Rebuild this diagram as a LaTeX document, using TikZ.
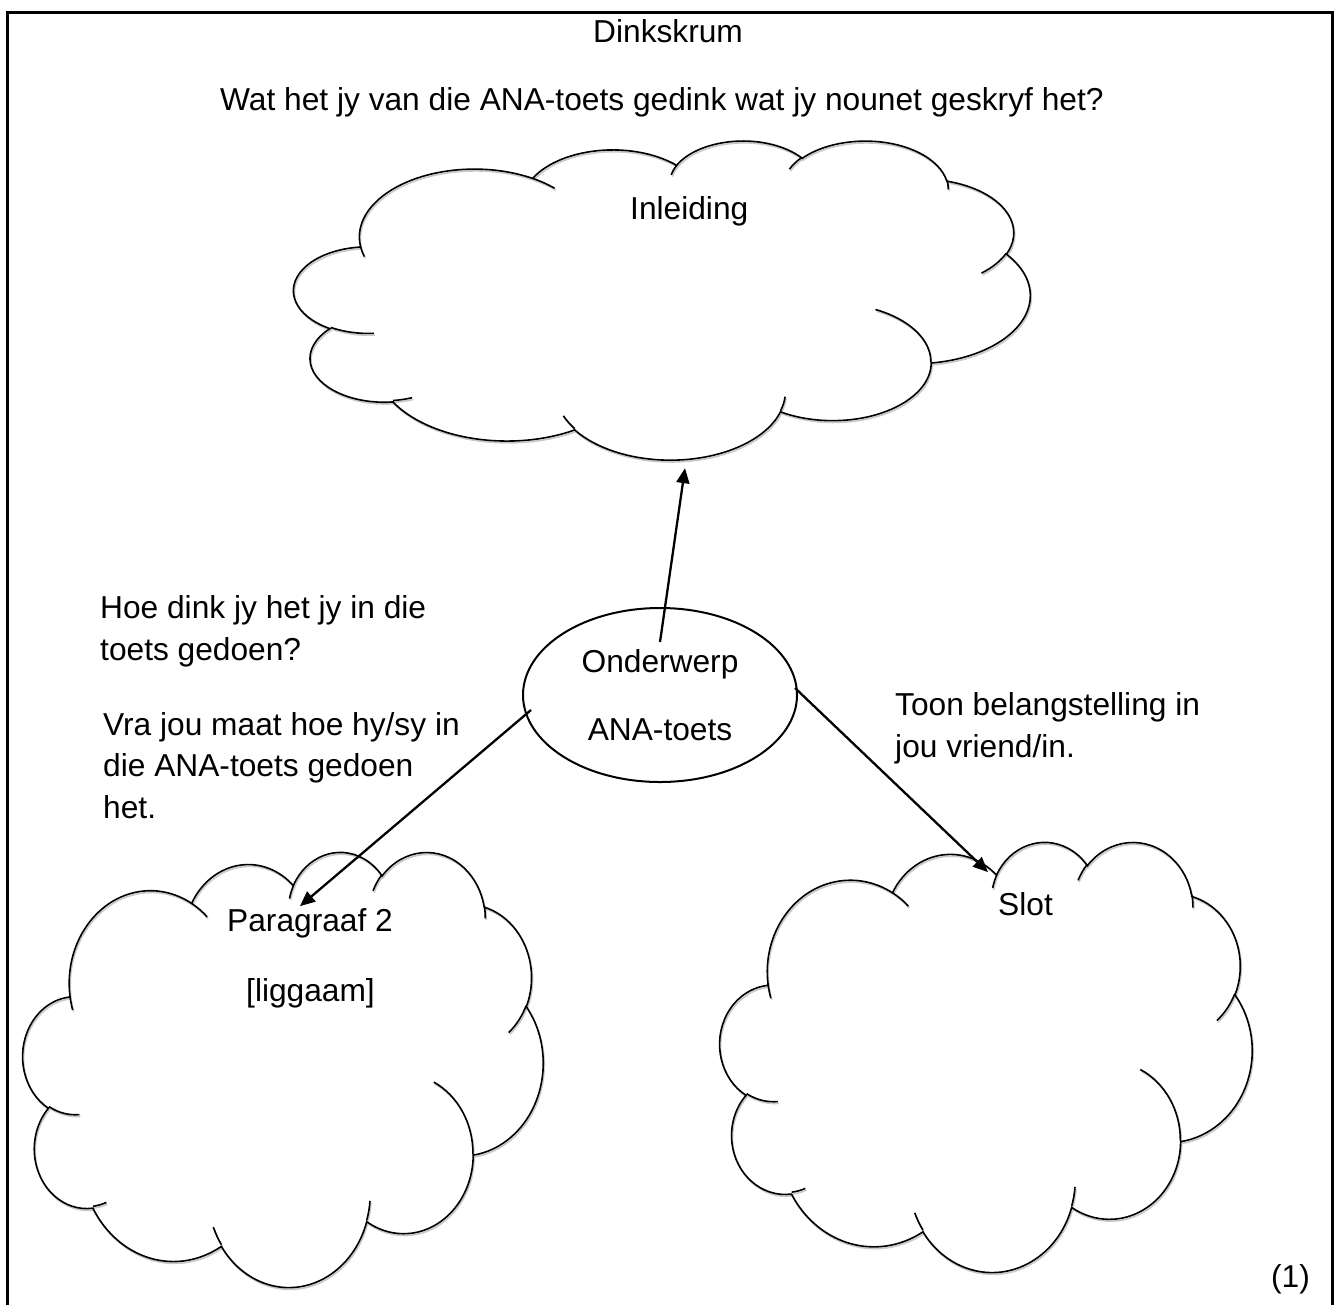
\documentclass[tikz,border=0pt]{standalone}
\usepackage{fontspec}
\setmainfont{Liberation Sans}
\usepackage{tikz}
\usetikzlibrary{arrows.meta,shapes.geometric}
\usepackage{xcolor}
\definecolor{cloudgray}{RGB}{200,200,200}
\tikzstyle{arrow} = [line width=2.3pt,->,>={Triangle[length=15pt,width=13pt]}]
\tikzstyle{framebox} = [line width=3pt]
\tikzstyle{cloudline} = [line width=1.6pt, black]
\tikzstyle{cloudshadow} = [line width=1.6pt, cloudgray, xshift=1pt, yshift=-1.8pt]
\tikzstyle{cloudbox} = [rectangle, inner sep=0pt]
\tikzstyle{txt} = [anchor=base west, inner sep=0pt, font=\fontsize{31.7}{41.5}\selectfont]
\tikzstyle{note} = [txt, align=left]
\tikzstyle{topicbox} = [ellipse, draw, line width=2pt, minimum width=274pt, minimum height=174pt, inner sep=0pt, align=center, font=\fontsize{31.7}{41.5}\selectfont]

% one puff of the cloud: x radius, y radius, start angle, sweep (angles seen from the centre)
\newcommand{\wcarc}[4]{arc[x radius=#1, y radius=#2,
  start angle={atan2(#1*sin(#3),#2*cos(#3))},
  delta angle={mod(atan2(#1*sin(#3+#4),#2*cos(#3+#4))-atan2(#1*sin(#3),#2*cos(#3))+720,360)}]}

% cloud outline in a 100 x 100 box
\newcommand{\wcpath}{(9.028,33.264)
  \wcarc{15.632}{21.273}{-190.4875}{123.7805}
  \wcarc{12.345}{16.822}{-144.1024}{89.9452}
  \wcarc{10.104}{13.762}{-145.8079}{99.7230}
  \wcarc{11.243}{15.266}{-130.9861}{117.2417}
  \wcarc{12.345}{16.836}{-78.7089}{109.0269}
  \wcarc{15.683}{21.343}{-46.2673}{130.2690}
  \wcarc{13.391}{18.211}{0.6250}{114.0333}
  \wcarc{15.630}{21.331}{22.4516}{115.1726}
  \wcarc{17.870}{24.405}{66.2426}{75.7110}
  \wcarc{10.093}{13.699}{-274.9421}{146.7356}
  \wcarc{10.058}{13.762}{-246.8285}{152.5176} -- cycle}

% small inner strokes of the cloud
\newcommand{\wctails}{%
  (10.863,60.595) \wcarc{10.058}{13.762}{86.7420}{26.4295}
  (16.037,80.785) \wcarc{10.093}{13.699}{73.6105}{11.4475}
  (38.144,90.486) \wcarc{15.630}{21.331}{137.6242}{14.0811}
  (66.729,80.442) \wcarc{15.630}{21.331}{6.4533}{15.9984}
  (79.002,53.134) \wcarc{13.391}{18.211}{-70.2924}{70.9174}
  (96.755,35.542) \wcarc{12.345}{16.836}{30.3180}{27.7515}
  (88.713,12.560) \wcarc{11.243}{15.266}{-13.7443}{14.8589}
  (67.310,9.148) \wcarc{11.243}{15.266}{-149.1815}{18.1954}
  (51.252,10.926) \wcarc{10.104}{13.762}{-163.4943}{17.6864}
  (32.407,12.019) \wcarc{15.632}{21.273}{-66.7070}{12.3194}
  (9.553,36.549) \wcarc{15.632}{21.273}{157.6544}{11.8582}}

% name, left, top, width/100, height/100
\newcommand{\wordcloud}[5]{%
  \begin{scope}[shift={(#2,#3)}, x=#4pt, y=-#5pt]
    \draw[cloudshadow] \wcpath \wctails;
    \draw[cloudline] \wcpath \wctails;
    \node[cloudbox, minimum width=#4*100pt, minimum height=#5*100pt] (#1) at (50,50.3) {};
  \end{scope}}

\begin{document}
\begin{tikzpicture}[x=1pt,y=-1pt]
\useasboundingbox (0,0) rectangle (1337,1304);
% Frame
\draw[framebox] (7,1320) -- (7,12) -- (1332,12) -- (1332,1320);

% Heading
\node[txt] (titel) at (593,42) {Dinkskrum};
\node[txt] (vraag) at (220,110) {Wat het jy van die ANA-toets gedink wat jy nounet geskryf het?};

% Clouds
\wordcloud{inl}{294}{140}{7.36}{3.19}
\wordcloud{par}{23}{851}{5.20}{4.35}
\wordcloud{slot}{720}{841}{5.32}{4.30}
\node[txt] (inltxt) at (630,219) {Inleiding};
\node[txt] (partxt) at (227,931) {Paragraaf 2};
\node[txt] (ligtxt) at (246,1001) {[liggaam]};
\node[txt] (slottxt) at (998,915) {Slot};

% Topic
\node[topicbox] (onder) at (660,695) {Onderwerp\\[26pt]ANA-toets};

% Notes (placed at the baseline of their last line)
\node[note] (hoe) at (100,660) {Hoe dink jy het jy in die\\toets gedoen?};
\node[note] (vra) at (103,818) {Vra jou maat hoe hy/sy in\\die ANA-toets gedoen\\het.};
\node[note] (toon) at (895,757) {Toon belangstelling in\\jou vriend/in.};
\node[txt, anchor=base east] (punt) at (1310,1287) {(1)};

% Arrows
\draw[arrow] ([yshift=-35pt]onder.north) -- ([xshift=23pt,yshift=-8pt]inl.south);
\draw[arrow] ([xshift=9pt,yshift=-15pt]onder.west) -- ([xshift=17pt,yshift=-54pt]par.north);
\draw[arrow] ([xshift=-3pt,yshift=7pt]onder.east) -- ([xshift=2pt,yshift=-30pt]slot.north);
\end{tikzpicture}
\end{document}
